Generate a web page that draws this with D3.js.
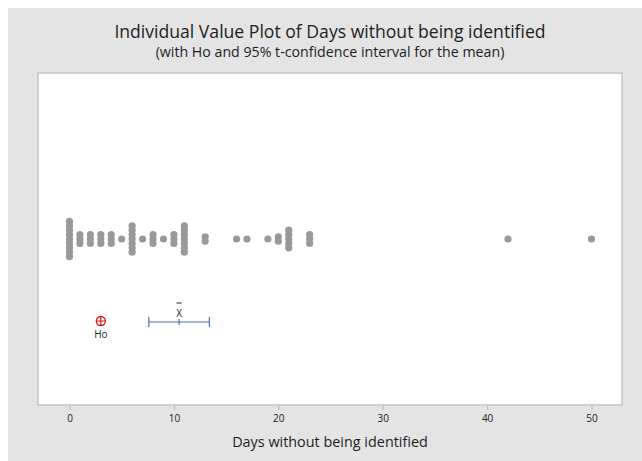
<!DOCTYPE html>
<html>
<head>
<meta charset="utf-8">
<script src="https://cdn.jsdelivr.net/npm/d3@7"></script>
<style>
  body { margin: 0; background: #fff; }
  text { font-family: "Open Sans", "Noto Sans", sans-serif; fill: #1e1e1e; }
</style>
</head>
<body>
<script>
// observed values and how many times each one occurs (stacked dots)
var dayValues = [0, 1, 2, 3, 4, 5, 6, 7, 8, 9, 10, 11, 13, 16, 17, 19, 20, 21, 23, 42, 50];
var dayCounts = [9, 3, 3, 3, 3, 1, 7, 1, 3, 1, 3, 7, 2, 1, 1, 1, 2, 5, 3, 1, 1];
// hypothesised mean and 95% t-interval for the mean
var hoValue = 3;
var meanValue = 10.5;
var ciBounds = [7.6, 13.4];
var xTicks = [0, 10, 20, 30, 40, 50];

var width = 642, height = 461;
var box = { left: 38, top: 73, right: 622, bottom: 405 };

var svg = d3.select('body').append('svg')
	.attr('width', width)
	.attr('height', height);

// grey panel
svg.append('rect')
	.attr('x', 8).attr('y', 8)
	.attr('width', width - 8).attr('height', height - 8)
	.attr('fill', '#e4e4e4');

// plot area
svg.append('rect')
	.attr('x', box.left).attr('y', box.top)
	.attr('width', box.right - box.left).attr('height', box.bottom - box.top)
	.attr('fill', '#fff')
	.attr('stroke', '#c4c4c4')
	.attr('stroke-width', 1.5);

var x = d3.scaleLinear()
	.domain([0, 50])
	.range([69.5, 591.5]);

// vertical position: 0 = bottom of plot box, 1 = top
var y = d3.scaleLinear()
	.domain([0, 1])
	.range([box.bottom, box.top]);

var dataRow = 0.5, ciRow = 0.25;

// x axis
var axis = d3.axisBottom(x)
	.tickValues(xTicks)
	.tickSize(4)
	.tickPadding(5);

var gx = svg.append('g')
	.attr('transform', 'translate(0,' + (box.bottom + 1) + ')')
	.call(axis);
gx.select('.domain').remove();
gx.selectAll('.tick line').attr('stroke', '#b8b8b8');
gx.selectAll('.tick text')
	.attr('font-size', '10px')
	.style('fill', '#222');

// stacked individual values
var step = 4.4;
var points = [];
dayValues.forEach(function (v, i) {
	var k = dayCounts[i];
	for (var j = 0; j < k; j++) {
		points.push({ value: v, offset: (j - (k - 1) / 2) * step });
	}
});

svg.append('g').selectAll('circle')
	.data(points)
	.enter().append('circle')
	.attr('cx', function (d) { return x(d.value); })
	.attr('cy', function (d) { return y(dataRow) + d.offset; })
	.attr('r', 3.6)
	.attr('fill', '#999');

// confidence interval
var ci = svg.append('g');
ci.append('line')
	.attr('x1', x(ciBounds[0])).attr('x2', x(ciBounds[1]))
	.attr('y1', y(ciRow)).attr('y2', y(ciRow))
	.attr('stroke', '#a9b7d6')
	.attr('stroke-width', 2);
ci.selectAll('.cap')
	.data([ciBounds[0], meanValue, ciBounds[1]])
	.enter().append('line')
	.attr('class', 'cap')
	.attr('x1', function (d) { return x(d); })
	.attr('x2', function (d) { return x(d); })
	.attr('y1', function (d) { return y(ciRow) - (d === meanValue ? 3 : 5); })
	.attr('y2', function (d) { return y(ciRow) + (d === meanValue ? 3 : 5); })
	.attr('stroke', '#4a70b4')
	.attr('stroke-width', 1.2);

// X-bar label
ci.append('text')
	.attr('x', x(meanValue))
	.attr('y', y(ciRow) - 5)
	.attr('text-anchor', 'middle')
	.attr('font-size', '10px')
	.text('X');
ci.append('line')
	.attr('x1', x(meanValue) - 2.5).attr('x2', x(meanValue) + 2.5)
	.attr('y1', y(ciRow) - 19).attr('y2', y(ciRow) - 19)
	.attr('stroke', '#222')
	.attr('stroke-width', 1);

// Ho marker
var ho = svg.append('g')
	.attr('transform', 'translate(' + x(hoValue) + ',' + (y(ciRow) - 1) + ')');
ho.append('circle')
	.attr('r', 4.5)
	.attr('fill', 'none')
	.attr('stroke', '#e01010')
	.attr('stroke-width', 1.3);
ho.append('path')
	.attr('d', 'M-4.5,0H4.5M0,-4.5V4.5')
	.attr('stroke', '#e01010')
	.attr('stroke-width', 1.1);
ho.append('text')
	.attr('y', 17)
	.attr('text-anchor', 'middle')
	.attr('font-size', '10px')
	.text('Ho');

// titles
var cx = (box.left + box.right) / 2;
svg.append('text')
	.attr('x', cx).attr('y', 38)
	.attr('text-anchor', 'middle')
	.attr('font-size', '17.6px')
	.text('Individual Value Plot of Days without being identified');
svg.append('text')
	.attr('x', cx).attr('y', 57)
	.attr('text-anchor', 'middle')
	.attr('font-size', '14.2px')
	.text('(with Ho and 95% t-confidence interval for the mean)');
svg.append('text')
	.attr('x', cx).attr('y', 447)
	.attr('text-anchor', 'middle')
	.attr('font-size', '14.4px')
	.text('Days without being identified');
</script>
</body>
</html>
